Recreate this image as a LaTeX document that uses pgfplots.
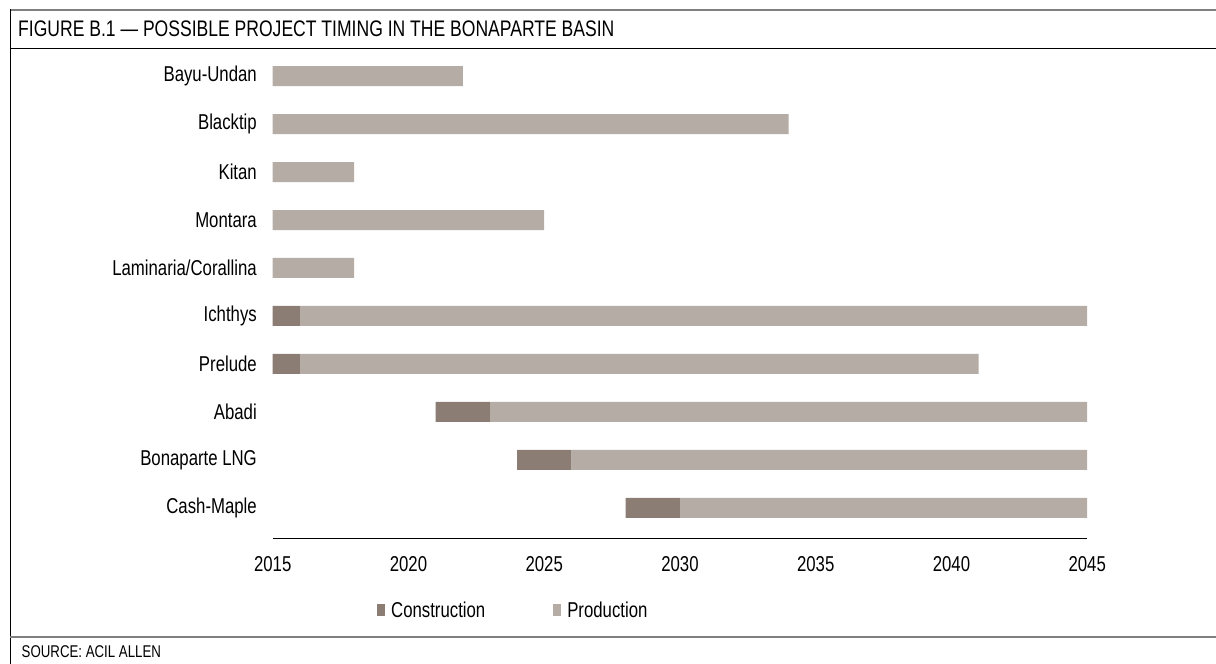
\documentclass[border=0pt]{standalone}
\usepackage{fontspec}
\setmainfont{Liberation Sans}[FakeStretch=0.78]
\usepackage{pgfplots}
\pgfplotsset{compat=1.18}
\definecolor{constr}{RGB}{139,125,116}
\definecolor{prod}{RGB}{181,172,166}
\definecolor{frameg}{RGB}{128,128,128}

\begin{document}
\begin{tikzpicture}[x=1pt,y=1pt]
\useasboundingbox (0,0) rectangle (1216,664);
\draw[frameg, line width=1.6pt] (10,654) -- (1216,654);
\draw[black, line width=1pt] (10,654.8) -- (10,0);
\draw[black, line width=1pt] (10,615.5) -- (1216,615.5);
\draw[frameg, line width=1.6pt] (10,27) -- (1216,27);
\node[anchor=base west, inner sep=0pt, font=\fontsize{22.5}{26}\selectfont] at (18,627) {FIGURE B.1 — POSSIBLE PROJECT TIMING IN THE BONAPARTE BASIN};
\node[anchor=base west, inner sep=0pt, font=\fontsize{17}{20}\selectfont] at (21.5,6) {SOURCE: ACIL ALLEN};

\begin{axis}[
  at={(272.7pt,125pt)}, anchor=south west,
  scale only axis, width=814.5pt, height=494pt,
  xmin=0, xmax=30, ymin=-0.646, ymax=9.646,
  xbar stacked, bar width=20pt,
  axis x line*=bottom, axis y line*=left,
  y axis line style={draw=none},
  x axis line style={line width=1pt, black},
  major tick length=0pt,
  tick style={draw=none},
  /pgf/number format/assume math mode=true,
  xtick={0,5,...,30},
  xticklabels={2015,2020,2025,2030,2035,2040,2045},
  ytick={0,1,...,9},
  yticklabels={Cash-Maple,Bonaparte LNG,Abadi,Prelude,Ichthys,Laminaria/Corallina,Montara,Kitan,Blacktip,Bayu-Undan},
  ticklabel style={font=\fontsize{21.5}{25}\selectfont, inner sep=0pt},
  xticklabel style={anchor=north, yshift=-17pt},
  yticklabel style={anchor=east, xshift=-15.7pt},
  legend columns=2,
  legend style={at={(0.128,-0.1445)}, anchor=west, draw=none, fill=none,
    inner sep=0pt, font=\fontsize{21.5}{25}\selectfont,
    nodes={inner sep=0pt},
    /tikz/every odd column/.append style={column sep=6pt},
    /tikz/every even column/.append style={column sep=68pt}},
  legend image code/.code={\fill[#1] (0pt,-5.5pt) rectangle (8pt,6.5pt);},
]
% invisible offset (start year - 2015)
\addplot[draw=none, fill=none, forget plot] coordinates {
(13,0) (9,1) (6,2) (0,3) (0,4) (0,5) (0,6) (0,7) (0,8) (0,9)};
% construction (years)
\addplot[draw=none, fill=constr] coordinates {
(2,0) (2,1) (2,2) (1,3) (1,4) (0,5) (0,6) (0,7) (0,8) (0,9)};
% production (years)
\addplot[draw=none, fill=prod] coordinates {
(15,0) (19,1) (22,2) (25,3) (29,4) (3,5) (10,6) (3,7) (19,8) (7,9)};
\legend{Construction,Production}
\end{axis}
\end{tikzpicture}
\end{document}
